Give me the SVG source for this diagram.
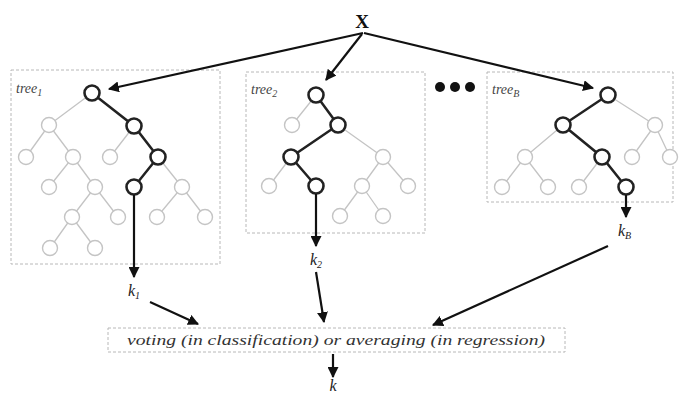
<svg xmlns="http://www.w3.org/2000/svg" width="680" height="394" viewBox="0 0 680 394">
<defs>
<marker id="ah" viewBox="0 0 10 10" refX="9" refY="5" markerWidth="5" markerHeight="5" orient="auto" markerUnits="strokeWidth">
<path d="M0,0 L10,5 L0,10 z" fill="#111"/>
</marker>
</defs>
<style>
.box{fill:none;stroke:#b8b8b8;stroke-width:1;stroke-dasharray:3,2}
.ln{stroke:#c4c4c4;stroke-width:1.3;fill:none}
.bl{stroke:#222;stroke-width:2.5;fill:none}
.n{fill:#fff;stroke:#c4c4c4;stroke-width:1.4}
.b{fill:#fff;stroke:#222;stroke-width:2.6}
.arr{stroke:#111;stroke-width:2.2;fill:none;marker-end:url(#ah)}
.lab{font-family:"Liberation Serif","DejaVu Serif",serif;font-style:italic;fill:#444;font-size:14px}
.k{font-family:"Liberation Serif","DejaVu Serif",serif;font-style:italic;fill:#222;font-size:16px}
.sub{font-size:10px}
</style>
<rect width="680" height="394" fill="#fff"/>

<g id="tree1">
<rect class="box" x="11" y="70" width="209" height="194"/>
<text class="lab" x="16" y="93">tree<tspan class="sub" dy="3">1</tspan></text>
<path class="ln" d="M92,93 L49,125 M49,125 L26,157 M49,125 L73,157 M134,126 L110,157 M73,157 L49,187 M73,157 L95,187 M158,157 L182,187 M95,187 L72,217 M95,187 L118,217 M182,187 L157,217 M182,187 L205,217 M72,217 L50,248 M72,217 L95,248"/>
<path class="bl" d="M92,93 L134,126 L158,157 L134,187"/>
<circle class="n" cx="49" cy="125" r="7.5"/>
<circle class="n" cx="26" cy="157" r="7.5"/>
<circle class="n" cx="73" cy="157" r="7.5"/>
<circle class="n" cx="110" cy="157" r="7.5"/>
<circle class="n" cx="49" cy="187" r="7.5"/>
<circle class="n" cx="95" cy="187" r="7.5"/>
<circle class="n" cx="182" cy="187" r="7.5"/>
<circle class="n" cx="72" cy="217" r="7.5"/>
<circle class="n" cx="118" cy="217" r="7.5"/>
<circle class="n" cx="157" cy="217" r="7.5"/>
<circle class="n" cx="205" cy="217" r="7.5"/>
<circle class="n" cx="50" cy="248" r="7.5"/>
<circle class="n" cx="95" cy="248" r="7.5"/>
<circle class="b" cx="92" cy="93" r="7.5"/>
<circle class="b" cx="134" cy="126" r="7.5"/>
<circle class="b" cx="158" cy="157" r="7.5"/>
<circle class="b" cx="134" cy="187" r="7.5"/>
</g>

<g id="tree2">
<rect class="box" x="246" y="72" width="179" height="161"/>
<text class="lab" x="251" y="94">tree<tspan class="sub" dy="3">2</tspan></text>
<path class="ln" d="M316,95 L292,125 M338,125 L383,157 M291,157 L269,186 M383,157 L362,186 M383,157 L408,186 M362,186 L340,216 M362,186 L383,216"/>
<path class="bl" d="M316,95 L338,125 L291,157 L316,186"/>
<circle class="n" cx="292" cy="125" r="7.5"/>
<circle class="n" cx="383" cy="157" r="7.5"/>
<circle class="n" cx="269" cy="186" r="7.5"/>
<circle class="n" cx="362" cy="186" r="7.5"/>
<circle class="n" cx="408" cy="186" r="7.5"/>
<circle class="n" cx="340" cy="216" r="7.5"/>
<circle class="n" cx="383" cy="216" r="7.5"/>
<circle class="b" cx="316" cy="95" r="7.5"/>
<circle class="b" cx="338" cy="125" r="7.5"/>
<circle class="b" cx="291" cy="157" r="7.5"/>
<circle class="b" cx="316" cy="186" r="7.5"/>
</g>

<g id="dots">
<circle cx="440" cy="87" r="5" fill="#111"/>
<circle cx="455" cy="87" r="5" fill="#111"/>
<circle cx="470" cy="87" r="5" fill="#111"/>
</g>

<g id="treeB">
<rect class="box" x="487" y="72" width="186" height="130"/>
<text class="lab" x="492" y="94">tree<tspan class="sub" dy="3">B</tspan></text>
<path class="ln" d="M608,95 L655,125 M563,125 L525,157 M525,157 L502,187 M525,157 L548,187 M602,157 L579,187 M655,125 L632,157 M655,125 L670,157"/>
<path class="bl" d="M608,95 L563,125 L602,157 L626,187"/>
<circle class="n" cx="655" cy="125" r="7.5"/>
<circle class="n" cx="525" cy="157" r="7.5"/>
<circle class="n" cx="632" cy="157" r="7.5"/>
<circle class="n" cx="670" cy="157" r="7.5"/>
<circle class="n" cx="502" cy="187" r="7.5"/>
<circle class="n" cx="548" cy="187" r="7.5"/>
<circle class="n" cx="579" cy="187" r="7.5"/>
<circle class="b" cx="608" cy="95" r="7.5"/>
<circle class="b" cx="563" cy="125" r="7.5"/>
<circle class="b" cx="602" cy="157" r="7.5"/>
<circle class="b" cx="626" cy="187" r="7.5"/>
</g>

<g id="input">
<text x="362" y="28" text-anchor="middle" font-family="Liberation Serif, serif" font-weight="bold" font-size="19" fill="#111">X</text>
</g>

<g id="outputs">
<text class="k" x="128" y="296">k<tspan class="sub" dy="3">1</tspan></text>
<text class="k" x="310" y="265">k<tspan class="sub" dy="3">2</tspan></text>
<text class="k" x="618" y="236">k<tspan class="sub" dy="3">B</tspan></text>
<text class="k" x="333" y="391" text-anchor="middle" font-size="14">k</text>
</g>

<g id="combiner">
<rect class="box" x="108" y="328" width="457" height="24"/>
<text x="336" y="345" text-anchor="middle" font-family="Liberation Serif, DejaVu Serif, serif" font-style="italic" font-size="15" fill="#333" textLength="418" lengthAdjust="spacingAndGlyphs">voting (in classification) or averaging (in regression)</text>
</g>

<g id="connectors">
<path class="arr" d="M363,33 L109,89"/>
<path class="arr" d="M362,34 L326,80"/>
<path class="arr" d="M364,33 L593,88"/>
<path class="arr" d="M134,195 L134,277"/>
<path class="arr" d="M316,194 L316,246"/>
<path class="arr" d="M626,195 L626,217"/>
<path class="arr" d="M150,302 L198,324"/>
<path class="arr" d="M316,272 L324,322"/>
<path class="arr" d="M608,246 L433,325"/>
<path class="arr" d="M333,354 L333,377"/>
</g>
</svg>
